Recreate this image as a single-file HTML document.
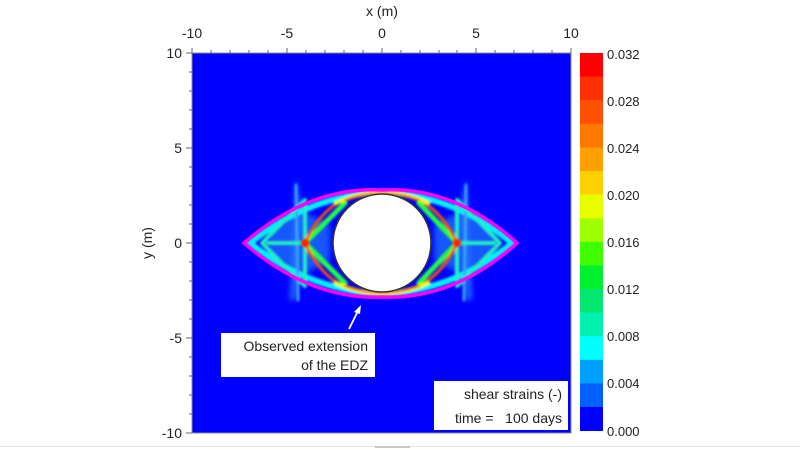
<!DOCTYPE html>
<html><head><style>
html,body{margin:0;padding:0;background:#fff;width:800px;height:450px;overflow:hidden}
svg text{font-family:"Liberation Sans",Arial,sans-serif;fill:#222}
</style></head><body>
<svg width="800" height="450" viewBox="0 0 800 450" xmlns="http://www.w3.org/2000/svg">
<defs>
<filter id="b1" x="-20%" y="-20%" width="140%" height="140%"><feGaussianBlur stdDeviation="1.1"/></filter>
<filter id="b2" x="-20%" y="-20%" width="140%" height="140%"><feGaussianBlur stdDeviation="3"/></filter>
<clipPath id="pc"><rect x="192" y="53" width="379" height="380"/></clipPath>
</defs>
<rect x="192" y="53" width="379" height="380" fill="#0000ff"/>
<g clip-path="url(#pc)">
<g filter="url(#b2)" opacity="0.8">
<path d="M268 230 L300 210 L330 225 L330 260 L300 276 L268 256Z" fill="#1a6dff"/>
<path d="M496 230 L464 210 L434 225 L434 260 L464 276 L496 256Z" fill="#1a6dff"/>
<path d="M296 178 L302 210 L296 300 L290 300 Z" fill="#2a8cff"/>
<path d="M466 178 L460 210 L466 300 L472 300 Z" fill="#2a8cff"/>
</g>
<g filter="url(#b1)" fill="none" stroke-linecap="round">
<path d="M250 243 Q310 195 382 192 Q454 195 512 243 Q454 291 382 294 Q310 291 250 243Z" stroke="#00f0ff" stroke-width="6"/>
<path d="M296 185 L298 300 M466 185 L464 300" stroke="#3aa0ff" stroke-width="3"/>
<path d="M262 243 L305 200 M262 243 L305 286 M305 205 L305 281 M305 243 L268 243" stroke="#20f0c0" stroke-width="4"/>
<path d="M305 243 L345 203 M305 243 L345 283" stroke="#20ff40" stroke-width="5"/>
<path d="M305 243 Q318 214 342 200 M305 243 Q318 272 342 286" stroke="#ff5000" stroke-width="3"/>
<path d="M500 243 L457 200 M500 243 L457 286 M457 205 L457 281 M457 243 L494 243" stroke="#20f0c0" stroke-width="4"/>
<path d="M457 243 L419 203 M457 243 L419 283" stroke="#20ff40" stroke-width="5"/>
<path d="M457 243 Q444 214 420 200 M457 243 Q444 272 420 286" stroke="#ff5000" stroke-width="3"/>
<path d="M336 203 Q382 182 428 203" stroke="#e8ff00" stroke-width="4"/>
<path d="M336 283 Q382 304 428 283" stroke="#e8ff00" stroke-width="4"/>
<path d="M345 200 Q382 186 419 200" stroke="#ff8000" stroke-width="2.5"/>
<path d="M345 286 Q382 300 419 286" stroke="#ff8000" stroke-width="2.5"/>
</g>
<circle cx="305" cy="243" r="4" fill="#ff2000" filter="url(#b1)"/>
<circle cx="457" cy="243" r="4" fill="#ff2000" filter="url(#b1)"/>
<path d="M244 243 Q310 186 382 190 Q454 186 517 243 Q454 300 382 297 Q310 300 244 243Z" fill="none" stroke="#ff00ff" stroke-width="3.5"/>
<circle cx="382" cy="243" r="49" fill="#fff" stroke="#333" stroke-width="1.5"/>
<rect x="221" y="333" width="154" height="44" fill="#fff"/>
<text x="368" y="351" font-size="14" text-anchor="end">Observed extension</text>
<text x="368" y="370" font-size="14" text-anchor="end">of the EDZ</text>
<path d="M349 329 L359 309" stroke="#fff" stroke-width="1.8"/>
<path d="M361 305 L354 312 L360 314Z" fill="#fff"/>
<rect x="434" y="381" width="134" height="49" fill="#fff"/>
<text x="562" y="399" font-size="14" text-anchor="end">shear strains (-)</text>
<text x="562" y="423" font-size="14" text-anchor="end" xml:space="preserve">time =   100 days</text>
</g>
<rect x="192" y="53" width="379" height="380" fill="none" stroke="#888" stroke-width="1"/>
<g stroke="#666" stroke-width="1">
<path d="M192 53 v-5 M287 53 v-5 M382 53 v-5 M476 53 v-5 M571 53 v-5"/>
<path d="M211 53 v-3 M230 53 v-3 M249 53 v-3 M268 53 v-3 M306 53 v-3 M325 53 v-3 M344 53 v-3 M363 53 v-3 M401 53 v-3 M420 53 v-3 M439 53 v-3 M457 53 v-3 M495 53 v-3 M514 53 v-3 M533 53 v-3 M552 53 v-3"/>
<path d="M192 53 h-6 M192 148 h-6 M192 243 h-6 M192 338 h-6 M192 433 h-6"/>
<path d="M192 72 h-3 M192 91 h-3 M192 110 h-3 M192 129 h-3 M192 167 h-3 M192 186 h-3 M192 205 h-3 M192 224 h-3 M192 262 h-3 M192 281 h-3 M192 300 h-3 M192 319 h-3 M192 357 h-3 M192 376 h-3 M192 395 h-3 M192 414 h-3"/>
</g>
<g font-size="14" text-anchor="middle">
<text x="192" y="38">-10</text><text x="287" y="38">-5</text><text x="382" y="38">0</text><text x="476" y="38">5</text><text x="571" y="38">10</text>
<text x="382" y="16">x (m)</text>
</g>
<g font-size="14" text-anchor="end">
<text x="182" y="58">10</text><text x="182" y="153">5</text><text x="182" y="248">0</text><text x="182" y="343">-5</text><text x="182" y="438">-10</text>
</g>
<text font-size="14" text-anchor="middle" transform="translate(152 243) rotate(-90)">y (m)</text>
<g>
<rect x="580" y="53" width="23" height="24" fill="#ff0000"/>
<rect x="580" y="76.6" width="23" height="24" fill="#ff3000"/>
<rect x="580" y="100.2" width="23" height="24" fill="#ff5000"/>
<rect x="580" y="123.8" width="23" height="24" fill="#ff7800"/>
<rect x="580" y="147.4" width="23" height="24" fill="#ffa000"/>
<rect x="580" y="171" width="23" height="24" fill="#ffd000"/>
<rect x="580" y="194.6" width="23" height="24" fill="#e8ff00"/>
<rect x="580" y="218.2" width="23" height="24" fill="#a0ff00"/>
<rect x="580" y="241.8" width="23" height="24" fill="#40ff00"/>
<rect x="580" y="265.4" width="23" height="24" fill="#00f030"/>
<rect x="580" y="289" width="23" height="24" fill="#00e870"/>
<rect x="580" y="312.6" width="23" height="24" fill="#00f0b0"/>
<rect x="580" y="336.2" width="23" height="24" fill="#00ffff"/>
<rect x="580" y="359.8" width="23" height="24" fill="#00a0ff"/>
<rect x="580" y="383.4" width="23" height="24" fill="#0060ff"/>
<rect x="580" y="407" width="23" height="24" fill="#0000ff"/>
</g>
<g font-size="13" fill="#333">
<text x="607" y="59">0.032</text><text x="607" y="106">0.028</text><text x="607" y="153">0.024</text><text x="607" y="200">0.020</text><text x="607" y="247">0.016</text><text x="607" y="294">0.012</text><text x="607" y="341">0.008</text><text x="607" y="388">0.004</text><text x="607" y="436">0.000</text>
</g>
<rect x="0" y="446" width="800" height="1" fill="#e4e4e4"/>
<rect x="375" y="446" width="35" height="2" fill="#c8c8c8"/>
</svg>
</body></html>
